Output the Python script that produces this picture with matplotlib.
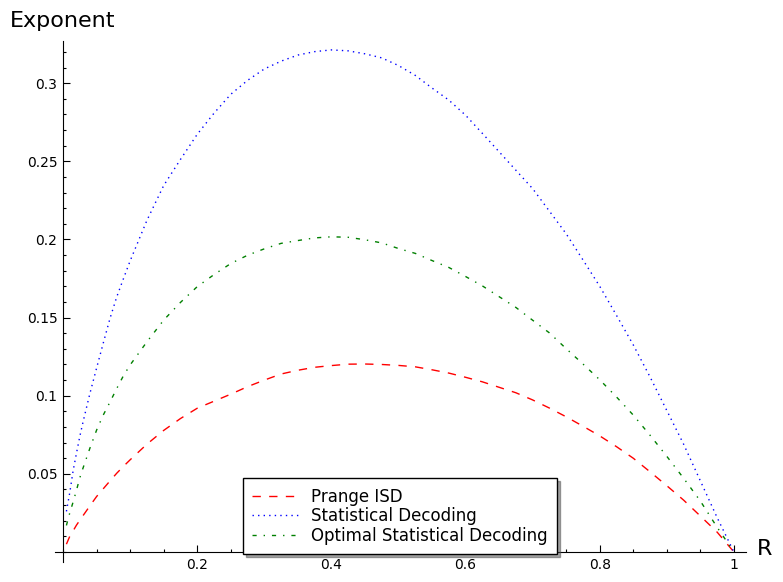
import numpy as np
import matplotlib
matplotlib.use("Agg")
import matplotlib.pyplot as plt
from matplotlib.ticker import FixedLocator, MultipleLocator

# Valores (R, exponente)
R_red = np.array([0.005, 0.01, 0.015, 0.02, 0.025, 0.03, 0.04, 0.05, 0.06, 0.07, 0.08, 0.09,
                  0.1, 0.125, 0.15, 0.175, 0.2, 0.225, 0.25, 0.275, 0.3, 0.325, 0.35, 0.375,
                  0.4, 0.425, 0.45, 0.475, 0.5, 0.525, 0.55, 0.575, 0.6, 0.625, 0.65, 0.675,
                  0.7, 0.725, 0.75, 0.775, 0.8, 0.825, 0.85, 0.875, 0.9, 0.925, 0.95, 0.975, 1.0])
prange = np.array([0.0050, 0.0100, 0.0135, 0.0172, 0.0203, 0.0234, 0.0295, 0.0355, 0.0405, 0.0455,
                   0.0504, 0.0548, 0.0590, 0.0690, 0.0778, 0.0854, 0.0920, 0.0965, 0.1010, 0.1058,
                   0.1100, 0.1139, 0.1163, 0.1182, 0.1193, 0.1202, 0.1203, 0.1200, 0.1194, 0.1185,
                   0.1166, 0.1145, 0.1118, 0.1089, 0.1054, 0.1019, 0.0973, 0.0921, 0.0865, 0.0805,
                   0.0743, 0.0674, 0.0600, 0.0513, 0.0424, 0.0332, 0.0230, 0.0127, 0.0])

R_blue = np.array([0.005, 0.01, 0.015, 0.02, 0.025, 0.03, 0.04, 0.05, 0.06, 0.07, 0.08, 0.09,
                   0.1, 0.125, 0.15, 0.175, 0.2, 0.225, 0.25, 0.275, 0.3, 0.325, 0.35, 0.375,
                   0.4, 0.425, 0.45, 0.475, 0.5, 0.525, 0.55, 0.575, 0.6, 0.625, 0.65, 0.675,
                   0.7, 0.725, 0.75, 0.775, 0.8, 0.825, 0.85, 0.875, 0.9, 0.925, 0.95, 0.975, 1.0])
statistical = np.array([0.026, 0.038, 0.052, 0.0632, 0.074, 0.0836, 0.1014, 0.1177, 0.1338, 0.1495,
                        0.1632, 0.1749, 0.1863, 0.2122, 0.2345, 0.2512, 0.2673, 0.2808, 0.2929, 0.3018,
                        0.3091, 0.3141, 0.3180, 0.3202, 0.3213, 0.3207, 0.3188, 0.3162, 0.3113, 0.3050,
                        0.2969, 0.2892, 0.2795, 0.2679, 0.2561, 0.2443, 0.2325, 0.2181, 0.2036, 0.1869,
                        0.1700, 0.1514, 0.1325, 0.1120, 0.0905, 0.0690, 0.0455, 0.0220, 0.0])

R_green = np.array([0.005, 0.01, 0.015, 0.02, 0.025, 0.03, 0.04, 0.05, 0.06, 0.07, 0.08, 0.09,
                    0.1, 0.125, 0.15, 0.175, 0.2, 0.225, 0.25, 0.275, 0.3, 0.325, 0.35, 0.375,
                    0.4, 0.425, 0.45, 0.475, 0.5, 0.525, 0.55, 0.575, 0.6, 0.625, 0.65, 0.675,
                    0.7, 0.725, 0.75, 0.775, 0.8, 0.825, 0.85, 0.875, 0.9, 0.925, 0.95, 0.975, 1.0])
optimal = np.array([0.017, 0.025, 0.032, 0.0395, 0.0475, 0.054, 0.0664, 0.078, 0.0877, 0.0960,
                    0.1046, 0.1128, 0.1197, 0.1345, 0.1484, 0.1597, 0.1698, 0.1775, 0.1846, 0.1899,
                    0.1940, 0.1975, 0.1993, 0.2010, 0.2017, 0.2014, 0.1998, 0.1978, 0.1942, 0.1911,
                    0.1865, 0.1821, 0.1763, 0.1703, 0.1634, 0.1565, 0.1483, 0.1402, 0.1301, 0.1203,
                    0.1102, 0.0992, 0.0876, 0.0747, 0.0612, 0.0472, 0.0326, 0.0158, 0.0])

xticks = [0.2, 0.4, 0.6, 0.8, 1.0]
xticklabels = ["0.2", "0.4", "0.6", "0.8", "1"]
yticks = [0.05, 0.1, 0.15, 0.2, 0.25, 0.3]
yticklabels = ["0.05", "0.1", "0.15", "0.2", "0.25", "0.3"]

fig = plt.figure(figsize=(7.83, 5.82), dpi=100)
ax = fig.add_axes([55/783, 1 - 562/582, (746 - 55)/783, (562 - 41)/582])

ax.plot(R_red, prange, color='red', lw=1, linestyle=(0, (6, 6)), label='Prange ISD')
ax.plot(R_blue, statistical, color='blue', lw=1, linestyle=(0, (1, 3)),
        label='Statistical Decoding')
ax.plot(R_green, optimal, color='green', lw=1, linestyle=(0, (3, 5, 1, 5)),
        label='Optimal Statistical Decoding')

ax.set_xlim(-0.012, 1.018)
ax.set_ylim(-0.0064, 0.327)

ax.spines['left'].set_position(('data', 0))
ax.spines['bottom'].set_position(('data', 0))
ax.spines['top'].set_visible(False)
ax.spines['right'].set_visible(False)

ax.xaxis.set_major_locator(FixedLocator(xticks))
ax.set_xticklabels(xticklabels)
ax.yaxis.set_major_locator(FixedLocator(yticks))
ax.set_yticklabels(yticklabels)
ax.xaxis.set_minor_locator(MultipleLocator(0.05))
ax.yaxis.set_minor_locator(MultipleLocator(0.01))

ax.tick_params(which='both', direction='in', labelsize=10, width=0.8)
ax.tick_params(which='major', length=5, pad=4)
ax.tick_params(which='minor', length=2.5)

leg = ax.legend(loc='lower left', bbox_to_anchor=((243 - 55)/691, (562 - 554)/521),
                borderaxespad=0, fontsize=12, shadow=True, fancybox=False, framealpha=1,
                handlelength=2.75, labelspacing=0.1, borderpad=0.55, handletextpad=0.78)
leg.get_frame().set_edgecolor('black')
leg.get_frame().set_linewidth(1)

fig.text(10/783, 1 - 27/582, "Exponent", fontsize=16, ha='left', va='baseline')
fig.text(757/783, 1 - 555/582, "R", fontsize=16, ha='left', va='baseline')

fig.savefig("out.png", dpi=100)
